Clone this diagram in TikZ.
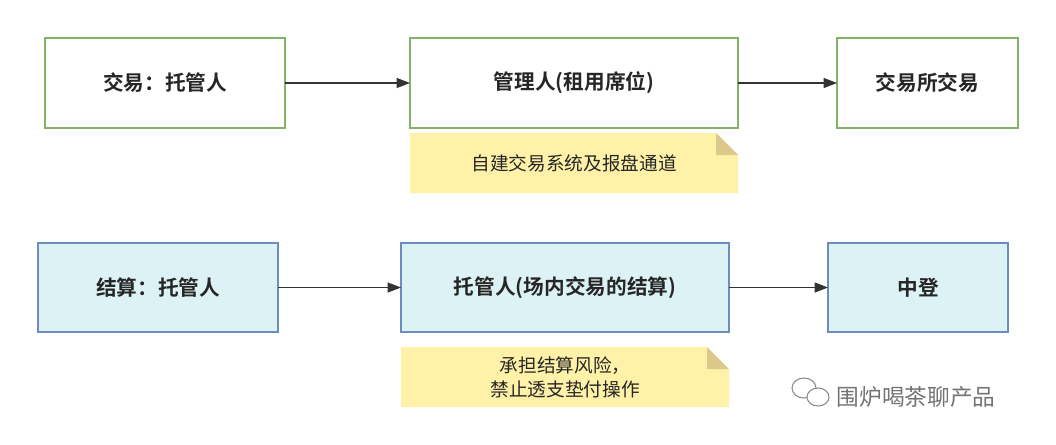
\documentclass[tikz,border=0pt]{standalone}
\usepackage{fontspec}
\newfontfamily\cjk{Noto Sans CJK SC}
\newfontfamily\cjkb{Noto Sans CJK SC Bold}
\usetikzlibrary{arrows.meta}
\definecolor{gborder}{HTML}{82B366}
\definecolor{bborder}{HTML}{6C8EBF}
\definecolor{bfill}{HTML}{DDF2F5}
\definecolor{nfill}{HTML}{FFF2A8}
\definecolor{nfold}{HTML}{DCC88A}
\tikzset{
 x=0.75pt,y=-0.75pt,
 gbox/.style={draw=gborder,line width=1pt,fill=white,font=\cjkb\fontsize{15.5}{18}\selectfont,text=black!85},
 bbox/.style={draw=bborder,line width=1pt,fill=bfill,font=\cjkb\fontsize{15.5}{18}\selectfont,text=black!85},
 arr/.style={-{Triangle[length=10pt,width=7.5pt]},line width=0.8pt,draw=black!80},
 ntext/.style={font=\cjk\fontsize{14}{18}\selectfont,text=black!85,align=center}
}
\newcommand{\notebox}[5]{% x1 y1 x2 y2 name
 \fill[nfill] (#1,#2) -- (#3-22,#2) -- (#3,#2+22) -- (#3,#4) -- (#1,#4) -- cycle;
 \fill[nfold] (#3-22,#2) -- (#3,#2+22) -- (#3-22,#2+22) -- cycle;
 \coordinate (#5) at ({(#1+#3)/2},{(#2+#4)/2});
}
\begin{document}
\begin{tikzpicture}
\useasboundingbox (0,0) rectangle (1056,444);
\fill[white] (0,0) rectangle (1056,444);
% top row
\path[gbox] (45,38) rectangle (285,128);
\node[gbox,draw=none,fill=none] (a) at (165,83) {交易：托管人};
\path[gbox] (410,38) rectangle (738,128);
\node[gbox,draw=none,fill=none] (b) at (574,83) {管理人(租用席位)};
\path[gbox] (837,38) rectangle (1018,128);
\node[gbox,draw=none,fill=none] (c) at (927.5,83) {交易所交易};
\coordinate (aR) at (285,83); \coordinate (bL) at (410,83);
\coordinate (bR) at (738,83); \coordinate (cL) at (837,83);
\draw[arr] (aR) -- (bL);
\draw[arr] (bR) -- (cL);
\notebox{410}{133}{738}{193}{n1}
\node[ntext] (n1t) at (n1) {自建交易系统及报盘通道};
% bottom row
\path[bbox] (38,243) rectangle (278,332);
\node[bbox,draw=none,fill=none] (d) at (158,287.5) {结算：托管人};
\path[bbox] (401,243) rectangle (729,332);
\node[bbox,draw=none,fill=none] (e) at (565,287.5) {托管人(场内交易的结算)};
\path[bbox] (828,243) rectangle (1008,332);
\node[bbox,draw=none,fill=none] (f) at (918,287.5) {中登};
\coordinate (dR) at (278,287.5); \coordinate (eL) at (401,287.5);
\coordinate (eR) at (729,287.5); \coordinate (fL) at (828,287.5);
\draw[arr] (dR) -- (eL);
\draw[arr] (eR) -- (fL);
\notebox{401}{347}{729}{407}{n2}
\node[ntext] (n2t) at (n2) {承担结算风险，\\禁止透支垫付操作};
% watermark
\draw[black!45,line width=0.8pt] (804,388) ellipse (12 and 10);
\draw[black!45,line width=0.8pt,fill=white] (818,397) ellipse (11 and 9);
\node[font=\cjk\fontsize{17}{19}\selectfont,text=black!55,anchor=west] (wm) at (832,397) {围炉喝茶聊产品};
\end{tikzpicture}
\end{document}
